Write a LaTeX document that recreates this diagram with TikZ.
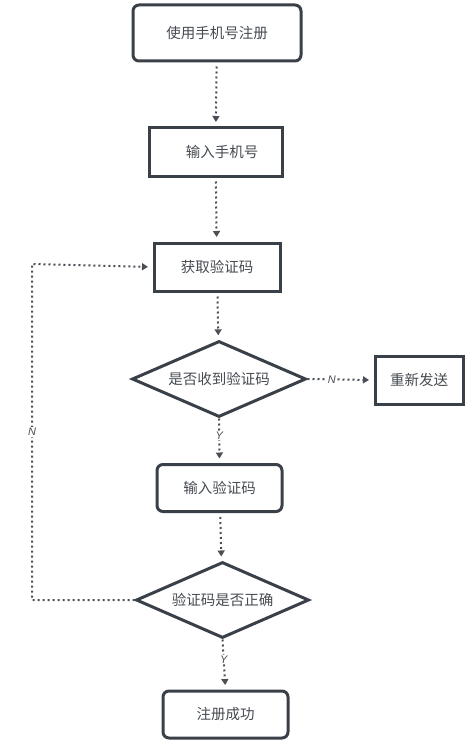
\documentclass[tikz,border=0pt]{standalone}
\usepackage{fontspec}
\newfontfamily\cjk{Noto Sans CJK SC}
\newfontfamily\lat{Liberation Sans}
\usetikzlibrary{arrows.meta,shapes.geometric}
\definecolor{boxline}{RGB}{58,64,71}
\definecolor{boxtext}{RGB}{70,75,81}
\definecolor{flowline}{RGB}{75,79,85}

\begin{document}
\begin{tikzpicture}[x=1pt,y=-1pt,
    stepbox/.style={draw=boxline,line width=3pt,text=boxtext,inner sep=0pt,
      font=\cjk\fontsize{14.5}{14.5}\selectfont},
    roundbox/.style={stepbox,rounded corners=6pt},
    choice/.style={stepbox,diamond,aspect=2.3},
    flow/.style={draw=flowline,line width=2pt,dash pattern=on 2pt off 3pt,
      -{Triangle[length=6pt,width=7pt]},shorten >=4.5pt,shorten <=4pt},
    yn/.style={fill=white,text=flowline,inner sep=1pt,
      font=\lat\itshape\fontsize{11}{11}\selectfont}]

    \useasboundingbox (0,0) rectangle (467,741);

    %(217,33)
    \node[roundbox,minimum width=168pt,minimum height=56pt] (start) at (217,33) {使用手机号注册};
    %(215,152)
    \node[stepbox,minimum width=133pt,minimum height=48pt] (phone) at (215.5,152) {\hspace*{13pt}输入手机号};
    %(217,267)
    \node[stepbox,minimum width=126pt,minimum height=48pt] (getcode) at (217,267) {获取验证码};
    %(219,379)
    \node[choice,minimum width=174pt,minimum height=76pt] (gotcode) at (219,379) {是否收到验证码};
    %(419,380)
    \node[stepbox,minimum width=88pt,minimum height=48pt] (resend) at (419,380) {重新发送};
    %(219,488)
    \node[roundbox,minimum width=125pt,minimum height=47pt] (entercode) at (219.5,488) {输入验证码};
    %(222,600)
    \node[choice,minimum width=173pt,minimum height=76pt] (checkcode) at (222.5,600) {验证码是否正确};
    %(225,714)
    \node[roundbox,minimum width=125pt,minimum height=47pt] (done) at (225.5,714.5) {注册成功};

    \coordinate (loopb) at (32,600);
    \coordinate (loopt) at (32,264);

    \draw[flow] (start) -- (phone);
    \draw[flow] (phone) -- (getcode);
    \draw[flow] (getcode) -- (gotcode);
    \draw[flow,shorten <=0pt] (gotcode.east) -- node[yn,pos=0.37] {N} (resend.west);
    \draw[flow,shorten <=0pt] (gotcode.south) -- node[yn,pos=0.38] {Y} (entercode.north);
    \draw[flow] (entercode) -- (checkcode);
    \draw[flow,shorten <=0pt] (checkcode.south) -- node[yn,pos=0.4] {Y} (done.north);
    \draw[flow,shorten <=0pt] (checkcode.west) -- (loopb) -- node[yn,midway] {N} (loopt) -- (getcode.west);

\end{tikzpicture}
\end{document}
